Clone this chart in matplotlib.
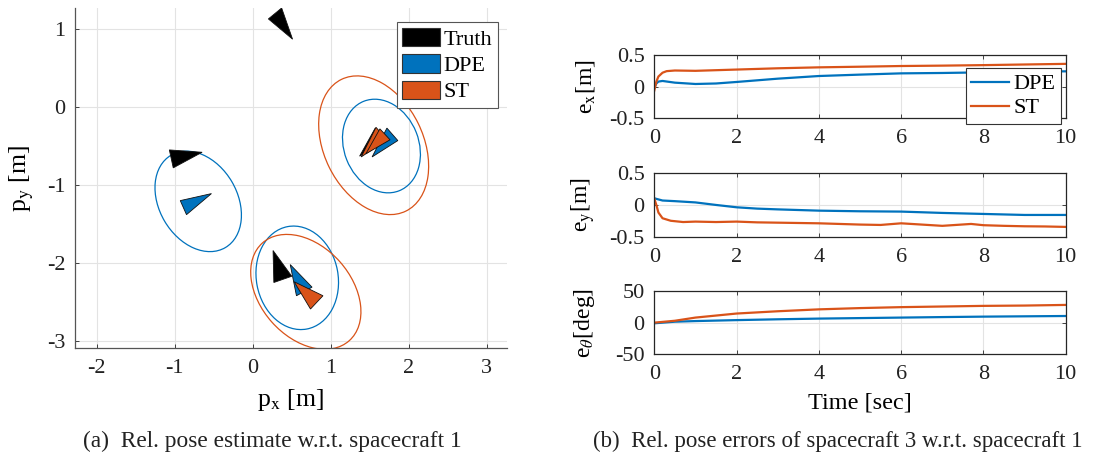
import numpy as np
import matplotlib
matplotlib.use('Agg')
from matplotlib import pyplot as plt
from matplotlib.patches import Polygon, Ellipse, Patch

plt.rcParams['font.family'] = ['Liberation Serif', 'DejaVu Serif']
plt.rcParams['mathtext.fontset'] = 'stix'
plt.rcParams['axes.unicode_minus'] = False

BLUE = '#0072BD'
ORANGE = '#D95319'
AXC = '#262626'

#---- Data: (a) pose estimates (triangle vertices, x then y)

truth_x = [[0.20, 0.37, 0.51], [-1.07, -0.65, -1.02], [0.26, 0.27, 0.50], [1.37, 1.57, 1.70]]
truth_y = [[1.13, 1.27, 0.87], [-0.55, -0.58, -0.78], [-1.84, -2.25, -2.17], [-0.63, -0.27, -0.43]]

dpe_x = [[-0.93, -0.53, -0.85], [0.48, 0.56, 0.76], [1.53, 1.72, 1.86]]
dpe_y = [[-1.20, -1.11, -1.38], [-2.02, -2.42, -2.31], [-0.64, -0.27, -0.43]]

st_x = [[0.53, 0.74, 0.90], [1.39, 1.58, 1.72], [1.45, 1.63, 1.76]]
st_y = [[-2.24, -2.59, -2.42], [-0.64, -0.26, -0.42], [-0.60, -0.28, -0.42]]

# covariance ellipses: centre x, centre y, semi-major, semi-minor, angle [deg]
dpe_ell_cx = [-0.70, 0.57, 1.65]
dpe_ell_cy = [-1.21, -2.19, -0.50]
dpe_ell_a = [0.687, 0.668, 0.617]
dpe_ell_b = [0.500, 0.524, 0.479]
dpe_ell_ang = [120.5, 100.6, 111.5]

st_ell_cx = [0.68, 1.55]
st_ell_cy = [-2.37, -0.49]
st_ell_a = [0.838, 0.94]
st_ell_b = [0.583, 0.636]
st_ell_ang = [131.6, 116.1]

#---- Data: (b) pose errors

t_ex_dpe = [0, 0.05, 0.1, 0.2, 0.5, 1.0, 1.5, 2, 3, 4, 5, 6, 7, 8, 9, 10]
ex_dpe = [-0.02, 0.05, 0.08, 0.09, 0.063, 0.042, 0.05, 0.074, 0.126, 0.168, 0.19, 0.21, 0.216, 0.226, 0.237, 0.242]
t_ex_st = [0, 0.05, 0.1, 0.2, 0.3, 0.5, 1, 2, 3, 4, 5, 6, 7, 8, 9, 10]
ex_st = [-0.06, 0.08, 0.16, 0.22, 0.245, 0.255, 0.25, 0.27, 0.29, 0.305, 0.315, 0.326, 0.332, 0.34, 0.35, 0.36]

t_ey_dpe = [0, 0.2, 0.5, 1, 1.5, 2, 2.5, 3, 4, 5, 6, 7, 8, 9, 10]
ey_dpe = [0.105, 0.07, 0.06, 0.04, 0.0, -0.037, -0.058, -0.07, -0.09, -0.1, -0.105, -0.126, -0.142, -0.158, -0.158]
t_ey_st = [0, 0.05, 0.1, 0.2, 0.4, 0.7, 1, 1.5, 2, 2.5, 3, 3.5, 4, 4.5, 5, 5.5, 6, 6.5, 7, 7.7, 8, 8.5, 9, 9.5, 10]
ey_st = [0.1, 0.0, -0.12, -0.21, -0.25, -0.27, -0.263, -0.27, -0.263, -0.275, -0.28, -0.285, -0.29, -0.3, -0.31, -0.316, -0.29, -0.31, -0.33, -0.3, -0.32, -0.33, -0.337, -0.34, -0.347]

t_eth = [0, 0.5, 1, 2, 3, 4, 5, 6, 7, 8, 9, 10]
eth_dpe = [-1.0, 1.5, 2.5, 4.0, 5.3, 6.4, 7.2, 8.0, 8.8, 9.5, 10.0, 10.5]
eth_st = [0.0, 3.0, 8.0, 14.4, 18.0, 21.0, 23.0, 24.5, 25.5, 26.5, 27.0, 28.0]


#---- Plotting

def style_axes(ax, box, spine_col=AXC):
    ax.grid(True, color='#e3e3e3', linewidth=0.8)
    ax.set_axisbelow(True)
    for s in ax.spines.values():
        s.set_color(spine_col)
        s.set_linewidth(0.9)
    if not box:
        ax.spines['top'].set_visible(False)
        ax.spines['right'].set_visible(False)
    ax.tick_params(direction='in', length=3, width=0.6, colors=AXC,
                   labelsize=16, labelcolor='#222222', top=box, right=box)
    ax.tick_params(axis='x', pad=8)
    ax.tick_params(axis='y', pad=7)


W, H = 1116., 462.
fig = plt.figure(figsize=(W/100, H/100), dpi=100)

# (a)
ax = fig.add_axes([75/W, 1-348/H, 432/W, 340/H])
style_axes(ax, box=False, spine_col='#555555')

for cx, cy, a, b, ang in zip(dpe_ell_cx, dpe_ell_cy, dpe_ell_a, dpe_ell_b, dpe_ell_ang):
    ax.add_patch(Ellipse((cx, cy), 2*a, 2*b, angle=ang, fill=False, ec=BLUE, lw=0.9))
for cx, cy, a, b, ang in zip(st_ell_cx, st_ell_cy, st_ell_a, st_ell_b, st_ell_ang):
    ax.add_patch(Ellipse((cx, cy), 2*a, 2*b, angle=ang, fill=False, ec=ORANGE, lw=0.9))

for xs, ys in zip(truth_x, truth_y):
    ax.add_patch(Polygon(np.c_[xs, ys], closed=True, fc='k', ec='#111111', lw=0.6))
for xs, ys in zip(dpe_x, dpe_y):
    ax.add_patch(Polygon(np.c_[xs, ys], closed=True, fc=BLUE, ec='#111111', lw=0.6))
for xs, ys in zip(st_x, st_y):
    ax.add_patch(Polygon(np.c_[xs, ys], closed=True, fc=ORANGE, ec='#111111', lw=0.6))

ax.set_xlim(-2.28, 3.26)
ax.set_ylim(-3.09, 1.27)
ax.set_xticks([-2, -1, 0, 1, 2, 3])
ax.set_yticks([-3, -2, -1, 0, 1])
ax.set_xlabel(r'p$_\mathrm{x}$ [m]', fontsize=18.5)
ax.set_ylabel(r'p$_\mathrm{y}$ [m]', fontsize=18.5)
ax.xaxis.set_label_coords(0.5, -0.115)
ax.yaxis.set_label_coords(-0.09, 0.5)

handles = [Patch(fc='k', ec='#333333', lw=0.8),
           Patch(fc=BLUE, ec='#333333', lw=0.8),
           Patch(fc=ORANGE, ec='#333333', lw=0.8)]
leg = ax.legend(handles, ['Truth', 'DPE', 'ST'], loc='upper left',
                bbox_to_anchor=(0.745, 0.958), borderaxespad=0, fontsize=16,
                fancybox=False, framealpha=1, edgecolor='#555555',
                handlelength=1.7, handleheight=0.9, handletextpad=0.15,
                labelspacing=0.2, borderpad=0.25)
leg.get_frame().set_linewidth(0.8)

# (b)
tops = [55, 173.3, 291]
x_l, x_w, h = 654.3, 411.4, 63.3
axs = [fig.add_axes([x_l/W, 1-(tp+h)/H, x_w/W, h/H]) for tp in tops]

series = [(t_ex_dpe, ex_dpe, t_ex_st, ex_st),
          (t_ey_dpe, ey_dpe, t_ey_st, ey_st),
          (t_eth, eth_dpe, t_eth, eth_st)]
ylabels = [r'e$_\mathrm{x}$[m]', r'e$_\mathrm{y}$[m]', r'e$_\theta$[deg]']
ylims = [(-0.5, 0.5), (-0.5, 0.5), (-50, 50)]
yticks = [[-0.5, 0, 0.5], [-0.5, 0, 0.5], [-50, 0, 50]]
yticklabels = [['-0.5', '0', '0.5'], ['-0.5', '0', '0.5'], ['-50', '0', '50']]

for i, a in enumerate(axs):
    style_axes(a, box=True)
    td, yd, ts, ys = series[i]
    a.plot(td, yd, color=BLUE, lw=1.6, label='DPE')
    a.plot(ts, ys, color=ORANGE, lw=1.6, label='ST')
    a.set_xlim(0, 10)
    a.set_ylim(*ylims[i])
    a.set_xticks([0, 2, 4, 6, 8, 10])
    a.set_yticks(yticks[i])
    a.set_yticklabels(yticklabels[i])
    a.set_ylabel(ylabels[i], fontsize=17)
    a.yaxis.set_label_coords(-0.14, 0.5)

leg2 = axs[0].legend(loc='upper left', bbox_to_anchor=(0.757, 0.79), borderaxespad=0,
                     fontsize=16, fancybox=False, framealpha=1, edgecolor='#333333',
                     handlelength=1.7, handletextpad=0.2, labelspacing=0.15, borderpad=0.25)
leg2.get_frame().set_linewidth(0.8)
axs[2].set_xlabel('Time [sec]', fontsize=17.5)
axs[2].xaxis.set_label_coords(0.5, -0.6)

# captions
fig.text(272/W, 1-441/H, '(a)  Rel. pose estimate w.r.t. spacecraft 1',
         ha='center', va='center', fontsize=16.8, color='#222222')
fig.text(838/W, 1-441/H, '(b)  Rel. pose errors of spacecraft 3 w.r.t. spacecraft 1',
         ha='center', va='center', fontsize=16.5, color='#222222')

plt.savefig('out.png', dpi=100)
